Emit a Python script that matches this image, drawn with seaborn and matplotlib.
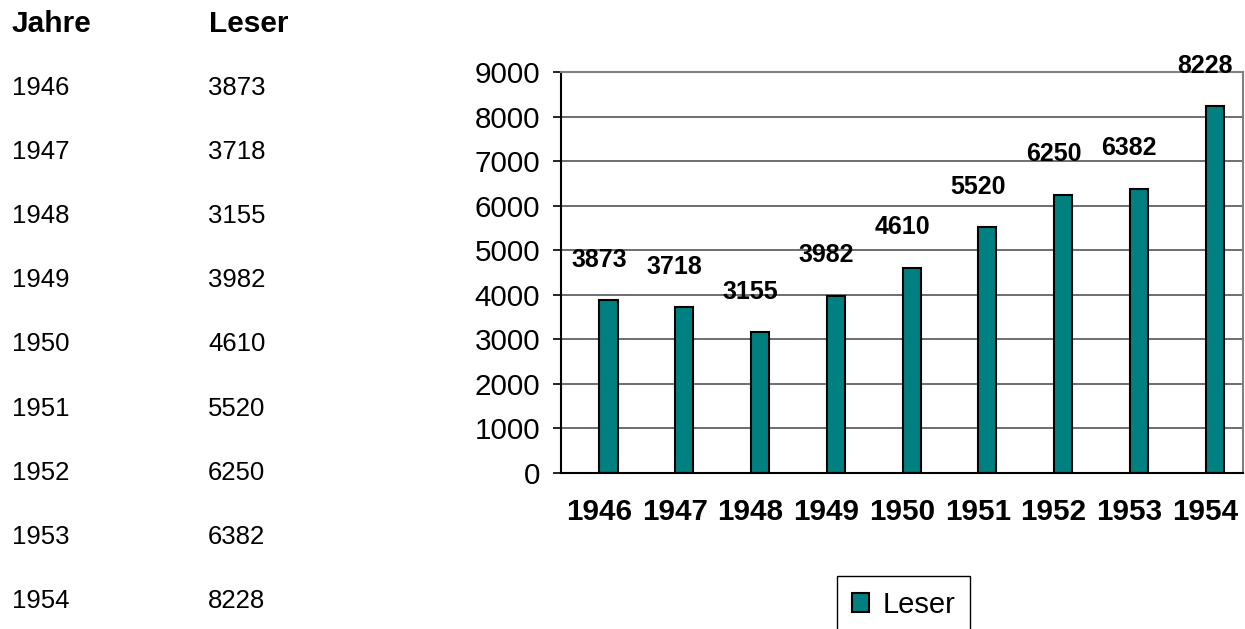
import pandas as pd
import seaborn as sns
import matplotlib.pyplot as plt

jahre = ['1946', '1947', '1948', '1949', '1950', '1951', '1952', '1953', '1954']
leser = [3873, 3718, 3155, 3982, 4610, 5520, 6250, 6382, 8228]
yticks = [0, 1000, 2000, 3000, 4000, 5000, 6000, 7000, 8000, 9000]

t = pd.DataFrame({'Jahre': jahre, 'Leser': leser})

sns.set_style('white', {'text.color': 'black', 'xtick.color': 'black',
                        'ytick.color': 'black', 'axes.labelcolor': 'black'})
plt.rcParams['font.family'] = ['Liberation Sans', 'DejaVu Sans']

fig = plt.figure(figsize=(12.45, 6.29), dpi=100)
ax = fig.add_axes([561/1245, 1-473/629, 682/1245, 401/629])

sns.barplot(x='Jahre', y='Leser', data=t, color='#008080', edgecolor='black',
            linewidth=1.5, width=0.24, saturation=1, label='Leser', ax=ax)

# slot centres sit a bit left of the bars, like in the original
s = 0.127
ax.set_xlim(-0.5 - s, len(jahre) - 0.5 - s)
ax.set_ylim(0, 9000)
ax.set_yticks(yticks)
ax.set_xticks([i - s for i in range(len(jahre))])
ax.set_xticklabels(jahre, fontsize=21.3, fontweight='bold')
ax.tick_params(axis='x', length=0, pad=18, colors='black')
ax.tick_params(axis='y', labelsize=21.3, length=6, width=1.2, direction='out', pad=9,
               left=True, colors='black')
ax.set_xlabel('')
ax.set_ylabel('')
ax.set_axisbelow(True)
ax.yaxis.grid(True, color='#555555', linewidth=1.2)

for sp in ['left', 'bottom']:
    ax.spines[sp].set_color('black')
    ax.spines[sp].set_linewidth(1.5)
for sp in ['top', 'right']:
    ax.spines[sp].set_color('#808080')
    ax.spines[sp].set_linewidth(1.5)

for i, v in enumerate(leser):
    ax.annotate(str(v), (i - s, v), xytext=(0, 29), textcoords='offset points',
                ha='center', va='center', fontsize=18, fontweight='bold', color='black')

leg = ax.legend(loc='upper left', bbox_to_anchor=(837/1245, 1-576/629),
                bbox_transform=fig.transFigure, fontsize=21, fancybox=False,
                edgecolor='black', framealpha=1, handlelength=0.6, handleheight=0.6,
                borderpad=0.5, borderaxespad=0, handletextpad=0.45)
leg.get_frame().set_linewidth(1)
for tx in leg.get_texts():
    tx.set_color('black')

# table on the left
fig.text(12/1245, 1-32/629, 'Jahre', fontsize=21.5, fontweight='bold', va='baseline')
fig.text(209/1245, 1-32/629, 'Leser', fontsize=21.5, fontweight='bold', va='baseline')
for i in range(len(jahre)):
    yb = 1 - (95 + i*64.1)/629
    fig.text(12/1245, yb, jahre[i], fontsize=18.5, va='baseline')
    fig.text(208/1245, yb, str(leser[i]), fontsize=18.5, va='baseline')

plt.savefig('out.png', dpi=100)
